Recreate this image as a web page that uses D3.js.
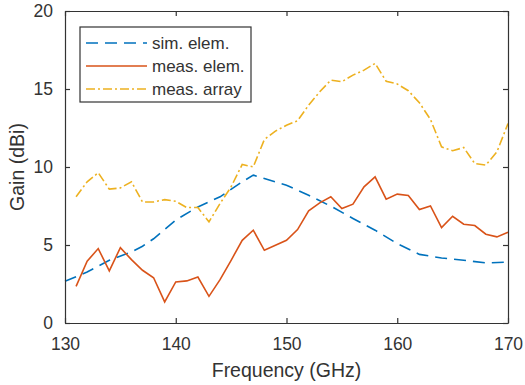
<!DOCTYPE html>
<html lang="en">
<head>
  <meta charset="UTF-8">
  <title>Gain vs Frequency</title>
  <style>
    body {
      margin: 0;
      background: #fff;
      font-family: "Liberation Sans", Arial, sans-serif;
    }
    .tick text { fill: #333; }
  </style>
</head>
<body>
  <svg id="chart" width="525" height="385"></svg>

  <script src="https://d3js.org/d3.v7.min.js"></script>
  <script>
    const freqs = d3.range(131, 171);

    const measElem = [2.35, 3.96, 4.77, 3.34, 4.83, 4.06, 3.38, 2.9, 1.35, 2.63,
      2.7, 2.95, 1.71, 2.78, 4.02, 5.3, 5.95, 4.66, 4.98, 5.3,
      5.99, 7.19, 7.7, 8.09, 7.34, 7.62, 8.73, 9.37, 7.94, 8.26,
      8.17, 7.27, 7.5, 6.12, 6.84, 6.33, 6.25, 5.69, 5.52, 5.82];

    const measArray = [8.09, 9.05, 9.63, 8.58, 8.66, 9.05, 7.76, 7.76, 7.91, 7.8,
      7.4, 7.4, 6.48, 7.66, 8.73, 10.16, 10.01, 11.76, 12.3, 12.68,
      12.96, 13.97, 14.82, 15.57, 15.47, 15.89, 16.21, 16.64, 15.5, 15.32,
      14.89, 14.12, 13.05, 11.29, 11.04, 11.25, 10.22, 10.12, 10.97, 12.79];

    const simFreqs = [130, 132, 134, 136, 137, 138, 140, 142, 144, 146, 147, 148,
      150, 152, 154, 156, 158, 160, 162, 164, 166, 168, 170];
    const simElem = [2.67, 3.27, 4.02, 4.56, 4.92, 5.4, 6.6, 7.44, 8.09, 9.05, 9.48, 9.26,
      8.83, 8.19, 7.49, 6.7, 5.95, 5.09, 4.4, 4.17, 4.02, 3.85, 3.91];

    const xTicks = [130, 140, 150, 160, 170];
    const yTicks = [0, 5, 10, 15, 20];

    const series = [
      { name: "sim. elem.", xs: simFreqs, ys: simElem, color: "#0072BD", dash: "12,7" },
      { name: "meas. elem.", xs: freqs, ys: measElem, color: "#D95319", dash: null },
      { name: "meas. array", xs: freqs, ys: measArray, color: "#EDB120", dash: "9,3,2,3" }
    ];

    const margin = { left: 65, right: 17, top: 11, bottom: 62 };
    const W = 525, H = 385;
    const svg = d3.select("#chart");

    const x = d3.scaleLinear().domain([130, 170]).range([margin.left, W - margin.right]);
    const y = d3.scaleLinear().domain([0, 20]).range([H - margin.bottom, margin.top]);

    const axisColor = "#333";

    // lines
    const line = d3.line().x(d => x(d[0])).y(d => y(d[1]));
    const plot = svg.append("g");
    series.forEach(s => {
      plot.append("path")
        .datum(s.xs.map((f, i) => [f, s.ys[i]]))
        .attr("fill", "none")
        .attr("stroke", s.color)
        .attr("stroke-width", 1.6)
        .attr("stroke-dasharray", s.dash)
        .attr("d", line);
    });

    // axes (ticks pointing inward, box on)
    const tickLen = 5;
    const axBottom = svg.append("g")
      .attr("transform", `translate(0,${y(0)})`)
      .call(d3.axisBottom(x).tickValues(xTicks).tickSizeInner(-tickLen).tickSizeOuter(0).tickPadding(15));
    const axLeft = svg.append("g")
      .attr("transform", `translate(${x(130)},0)`)
      .call(d3.axisLeft(y).tickValues(yTicks).tickSizeInner(-tickLen).tickSizeOuter(0).tickPadding(12));
    const axTop = svg.append("g")
      .attr("transform", `translate(0,${y(20)})`)
      .call(d3.axisTop(x).tickValues(xTicks).tickSizeInner(-tickLen).tickSizeOuter(0).tickFormat(""));
    const axRight = svg.append("g")
      .attr("transform", `translate(${x(170)},0)`)
      .call(d3.axisRight(y).tickValues(yTicks).tickSizeInner(-tickLen).tickSizeOuter(0).tickFormat(""));

    [axBottom, axLeft, axTop, axRight].forEach(g => {
      g.selectAll("path, line").attr("stroke", axisColor).attr("stroke-width", 1.2);
      g.selectAll("text").attr("font-size", 17.5).attr("font-family", "Liberation Sans, Arial, sans-serif");
    });

    // axis labels
    svg.append("text")
      .attr("x", (x(130) + x(170)) / 2)
      .attr("y", 377)
      .attr("text-anchor", "middle")
      .attr("font-size", 19.5)
      .attr("fill", axisColor)
      .text("Frequency (GHz)");

    svg.append("text")
      .attr("transform", `translate(24,${(y(0) + y(20)) / 2}) rotate(-90)`)
      .attr("text-anchor", "middle")
      .attr("font-size", 19.5)
      .attr("fill", axisColor)
      .text("Gain (dBi)");

    // legend
    const legend = svg.append("g").attr("transform", "translate(80,27)");
    legend.append("rect")
      .attr("width", 171).attr("height", 75)
      .attr("fill", "#fff")
      .attr("stroke", axisColor)
      .attr("stroke-width", 1.2);
    series.forEach((s, i) => {
      const ly = 16 + i * 23;
      legend.append("line")
        .attr("x1", 6).attr("x2", 67)
        .attr("y1", ly).attr("y2", ly)
        .attr("stroke", s.color)
        .attr("stroke-width", 1.6)
        .attr("stroke-dasharray", s.dash);
      legend.append("text")
        .attr("x", 72).attr("y", ly)
        .attr("dy", "0.35em")
        .attr("font-size", 17)
        .attr("fill", axisColor)
        .text(s.name);
    });
  </script>
</body>
</html>
